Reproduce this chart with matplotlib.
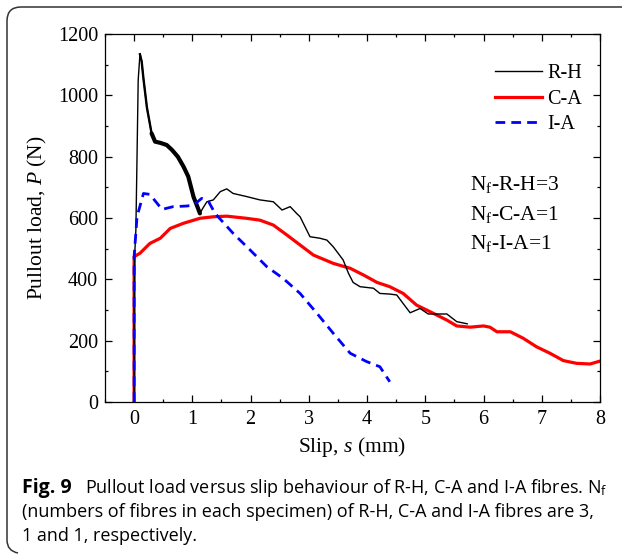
import matplotlib
matplotlib.use("Agg")
import matplotlib.pyplot as plt
from matplotlib.path import Path
from matplotlib.patches import PathPatch
from matplotlib.ticker import MultipleLocator

plt.rcParams['mathtext.fontset'] = 'custom'
plt.rcParams['mathtext.rm'] = 'Liberation Serif'
plt.rcParams['mathtext.it'] = 'Liberation Serif:italic'
plt.rcParams['mathtext.sf'] = 'Open Sans'

# ---- data ----
rh_s = [0.0, 0.0, 0.01, 0.02, 0.03, 0.05, 0.07, 0.10, 0.13, 0.16, 0.22, 0.30, 0.36,
        0.45, 0.56, 0.65, 0.75, 0.85, 0.93, 1.02, 1.08, 1.13, 1.19, 1.25, 1.36,
        1.48, 1.59, 1.70, 1.93, 2.16, 2.39, 2.54, 2.68, 2.79, 2.85, 3.02, 3.19,
        3.31, 3.42, 3.59, 3.68, 3.76, 3.88, 4.11, 4.22, 4.39, 4.51, 4.62, 4.74,
        4.91, 5.05, 5.37, 5.54, 5.72]
rh_p = [0, 300, 480, 520, 560, 800, 1050, 1134, 1110, 1055, 960, 876, 849,
        845, 838, 822, 800, 767, 735, 669, 640, 615, 635, 653, 659,
        686, 695, 680, 670, 659, 653, 626, 637, 615, 604, 539, 534,
        528, 506, 463, 420, 390, 376, 371, 354, 352, 349, 321, 291,
        305, 287, 287, 262, 255]

ca_s = [0.0, 0.0, 0.10, 0.27, 0.45, 0.62, 0.85, 1.13, 1.36, 1.59, 1.93, 2.16,
        2.39, 2.62, 2.85, 3.08, 3.42, 3.71, 3.94, 4.17, 4.39, 4.62, 4.85,
        5.14, 5.37, 5.54, 5.77, 6.00, 6.11, 6.23, 6.46, 6.68, 6.91, 7.14,
        7.37, 7.60, 7.83, 8.03]
ca_p = [0, 474, 485, 517, 534, 566, 583, 599, 604, 606, 599, 593,
        577, 545, 512, 479, 452, 436, 414, 390, 376, 354, 316,
        289, 267, 248, 244, 248, 244, 229, 229, 208, 180, 159,
        135, 126, 124, 135]

ia_s = [0.0, 0.0, 0.05, 0.16, 0.27, 0.48, 0.67, 0.90, 1.02, 1.16, 1.28, 1.39,
        1.70, 1.99, 2.28, 2.56, 2.85, 3.14, 3.42, 3.71, 3.99, 4.22, 4.39]
ia_p = [0, 474, 604, 680, 677, 628, 637, 639, 642, 664, 653, 615,
        550, 496, 441, 403, 354, 289, 224, 159, 132, 115, 66]

series_labels = ['R-H', 'C-A', 'I-A']
nf_labels = ['N$_{\\mathrm{f}}$-R-H=3', 'N$_{\\mathrm{f}}$-C-A=1', 'N$_{\\mathrm{f}}$-I-A=1']
x_ticks = [0, 1, 2, 3, 4, 5, 6, 7, 8]
y_ticks = [0, 200, 400, 600, 800, 1000, 1200]

# ---- figure ----
W, H = 624, 555
fig = plt.figure(figsize=(W / 100, H / 100), dpi=100)


def fx(px):
    return px / W


def fy(py):
    return 1 - py / H


# rounded frame (left + top)
r = 14
verts = [(fx(622), fy(7)), (fx(7 + r), fy(7)), (fx(7), fy(7)), (fx(7), fy(7 + r)),
         (fx(7), fy(540)), (fx(7), fy(551)), (fx(18), fy(553))]
codes = [Path.MOVETO, Path.LINETO, Path.CURVE3, Path.CURVE3,
         Path.LINETO, Path.CURVE3, Path.CURVE3]
fig.patches.append(PathPatch(Path(verts, codes), transform=fig.transFigure,
                             fill=False, edgecolor='#333333', lw=1.1))

ax = fig.add_axes([105 / W, 1 - 402 / H, (600 - 105) / W, (402 - 34) / H])

serif = 'Liberation Serif'
ax.plot(rh_s, rh_p, color='black', lw=1.0, label=series_labels[0], zorder=3)
ax.plot(rh_s[7:12], rh_p[7:12], color='black', lw=1.7, zorder=3)
ax.plot(rh_s[11:22], rh_p[11:22], color='black', lw=3.0, zorder=3,
        solid_capstyle='round')
ax.plot(ca_s, ca_p, color='#ff0000', lw=2.3, label=series_labels[1], zorder=2)
ax.plot(ia_s, ia_p, color='#0000ff', lw=2.0, ls=(0, (3.5, 2.2)),
        label=series_labels[2], zorder=4)

ax.set_xlim(-0.5, 8)
ax.set_ylim(0, 1200)
ax.set_xticks(x_ticks)
ax.set_yticks(y_ticks)
ax.xaxis.set_minor_locator(MultipleLocator(0.5))
ax.yaxis.set_minor_locator(MultipleLocator(100))
ax.tick_params(which='both', direction='in', top=True, right=True,
               labelsize=14.5, width=0.9)
ax.tick_params(which='major', length=5)
ax.tick_params(which='minor', length=2.5)
for lab in ax.get_xticklabels() + ax.get_yticklabels():
    lab.set_fontfamily(serif)
ax.tick_params(axis='x', pad=6)
ax.tick_params(axis='y', pad=5)
for sp in ax.spines.values():
    sp.set_linewidth(0.9)

ax.set_xlabel('Slip, $\\it{s}$ (mm)', fontfamily=serif, fontsize=15.5, labelpad=4)
ax.set_ylabel('Pullout load, $\\it{P}$ (N)', fontfamily=serif, fontsize=15.5, labelpad=6)

leg = ax.legend(loc='upper left', bbox_to_anchor=(fx(487), fy(56)),
                bbox_transform=fig.transFigure, frameon=False,
                prop={'family': serif, 'size': 14.5}, handlelength=2.35,
                handletextpad=0.25, labelspacing=0.32, borderaxespad=0.0,
                borderpad=0.4)

for i, t in enumerate(nf_labels):
    ax.text(470 / W, fy(185 + i * 29.5), t, transform=fig.transFigure,
            fontfamily=serif, fontsize=15.5, va='center', ha='left')

# caption
cap_font = 'Open Sans'
cs = 13.0
fig.text(22 / W, fy(488), 'Fig. 9', fontfamily=cap_font, fontweight='bold',
         fontsize=14.0, va='center', ha='left')
fig.text(85 / W, fy(488),
         'Pullout load versus slip behaviour of R-H, C-A and I-A fibres. N$_{\\mathsf{f}}$',
         fontfamily=cap_font, fontsize=cs, va='center', ha='left')
fig.text(22 / W, fy(512),
         '(numbers of fibres in each specimen) of R-H, C-A and I-A fibres are 3,',
         fontfamily=cap_font, fontsize=cs, va='center', ha='left')
fig.text(22 / W, fy(536), '1 and 1, respectively.',
         fontfamily=cap_font, fontsize=cs, va='center', ha='left')

fig.savefig('out.png', dpi=100)
